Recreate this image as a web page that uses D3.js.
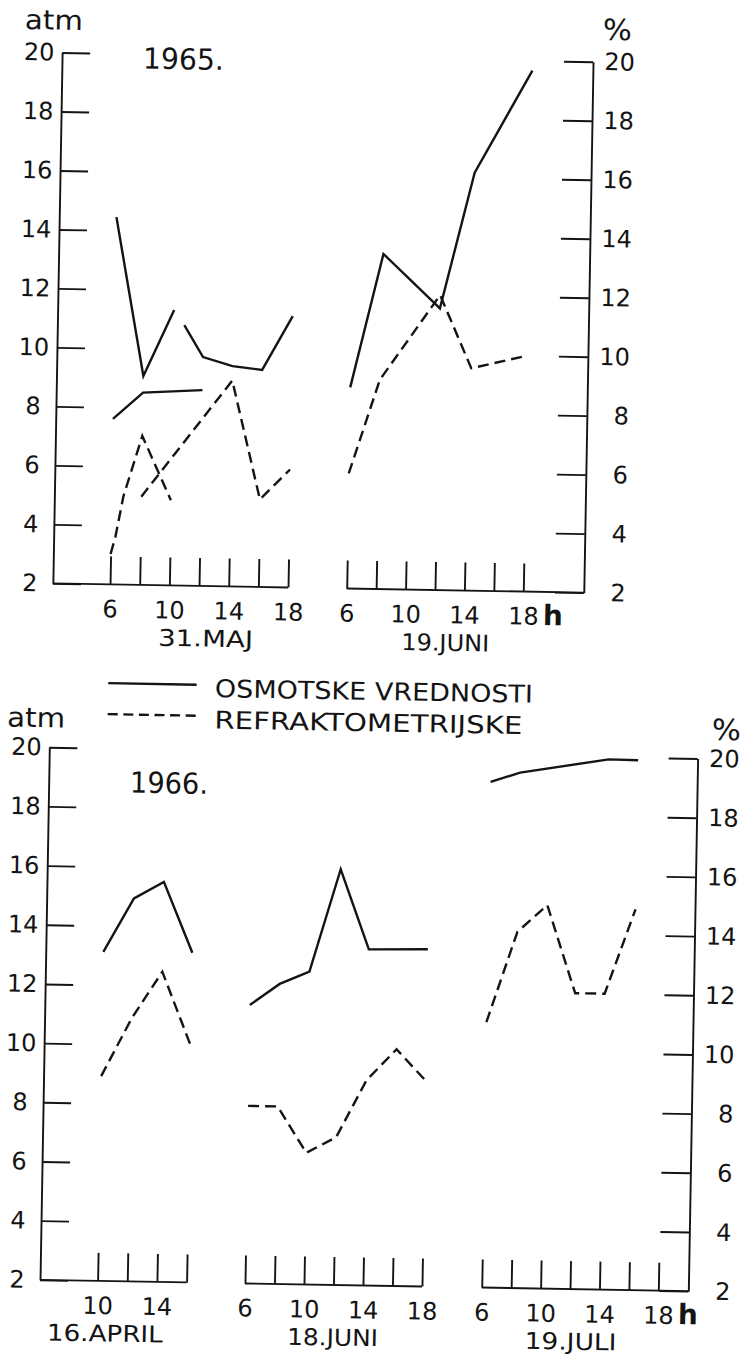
<!DOCTYPE html>
<html>
<head>
<meta charset="utf-8">
<script src="https://cdn.jsdelivr.net/npm/d3@7"></script>
<style>
  html, body { margin: 0; padding: 0; background: #fff; }
  svg { display: block; }
  text { font-family: 'DejaVu Sans', sans-serif; fill: #141414; }
</style>
</head>
<body>
<svg id="chart"></svg>
<script>
const W = 745
const H = 1356

const yTicks = [2, 4, 6, 8, 10, 12, 14, 16, 18, 20]
const dayHours = [6, 8, 10, 12, 14, 16, 18]
const aprilHours = [10, 12, 14, 16]
const hourLabels = [6, 10, 14, 18]
const aprilLabels = [10, 14]

// series are [hour, value]; solid = osmotske (atm), dashed = refraktometrijske (%)
// 1965
const maj31Osm1 = [[6, 14.45], [8, 9.08], [10, 11.34]]
const maj31Osm2 = [[10.7, 10.83], [12, 9.76], [14, 9.47], [16, 9.36], [18, 11.2]]
const maj31Osm3 = [[6, 7.61], [8, 8.52], [12, 8.64]]
const maj31Ref1 = [[6, 3.03], [6.3, 3.6], [6.8, 5.0], [8, 7.05], [10, 4.89]]
const maj31Ref2 = [[8, 4.99], [14, 8.98], [16, 4.97], [18, 6.0]]
const jun19Osm = [[6, 8.82], [8.1, 13.36], [12, 11.55], [14.2, 16.17], [18, 19.66]]
const jun19Ref = [[6, 5.9], [8, 9.09], [12, 12.0], [14.2, 9.54], [18, 10.0]]

// 1966
const apr16Osm = [[10, 13.12], [12, 14.94], [14, 15.52], [16, 13.14]]
const apr16Ref = [[10, 8.92], [12, 10.9], [14, 12.48], [16, 10.0]]
const jun18Osm = [[6, 11.41], [8, 12.14], [10, 12.57], [12, 16.05], [14, 13.36], [18, 13.4]]
const jun18Ref = [[6, 8.0], [8, 8.0], [10, 6.45], [12, 6.99], [14, 8.94], [16, 10.0], [18, 8.96]]
const jul19Osm = [[6, 19.09], [8, 19.42], [14, 19.92], [16, 19.91]]
const jul19Ref = [[6, 10.97], [8, 14.04], [10, 14.96], [12, 12.0], [14, 12.0], [16, 14.87]]

const legendLabels = ['OSMOTSKE VREDNOSTI', 'REFRAKTOMETRIJSKE']

const panels = [
  {
    year: '1965.', cx: 320, cy: 320, top: 57, bottom: 588, left: 57.5, right: 588.5,
    yearPos: [138.4, 71.7, 81], atmPos: [19.7, 34.1], pctPos: [597.8, 34.8],
    sections: [
      { dom: [6, 18], rng: [114.7, 292.7], from: 57.5, to: 292.7, ticks: dayHours, labels: hourLabels,
        name: '31.MAJ', nameAt: 12.5, nameW: 95, h: false,
        lines: [[maj31Osm1, false], [maj31Osm2, false], [maj31Osm3, false], [maj31Ref1, true], [maj31Ref2, true]] },
      { dom: [6, 18], rng: [351.4, 528], from: 351.4, to: 588.5, ticks: dayHours, labels: hourLabels,
        name: '19.JUNI', nameAt: 12.76, nameW: 88, h: true,
        lines: [[jun19Osm, false], [jun19Ref, true]] }
    ]
  },
  {
    year: '1966.', cx: 360, cy: 1020, top: 752.7, bottom: 1285.4, left: 44.6, right: 693,
    yearPos: [125.9, 796.6, 78], atmPos: [1.9, 732.6], pctPos: [706.8, 733.6],
    legend: true,
    sections: [
      { dom: [10, 16], rng: [102.2, 191.2], from: 44.6, to: 191.2, ticks: aprilHours, labels: aprilLabels,
        name: '16.APRIL', nameAt: 10.55, nameW: 116, h: false,
        lines: [[apr16Osm, false], [apr16Ref, true]] },
      { dom: [6, 18], rng: [249.6, 426.6], from: 249.6, to: 426.6, ticks: dayHours, labels: hourLabels,
        name: '18.JUNI', nameAt: 12, nameW: 91, h: false,
        lines: [[jun18Osm, false], [jun18Ref, true]] },
      { dom: [6, 18], rng: [486.4, 663], from: 486.4, to: 693, ticks: dayHours, labels: hourLabels,
        name: '19.JULI', nameAt: 12.1, nameW: 92, h: true,
        lines: [[jul19Osm, false], [jul19Ref, true]] }
    ]
  }
]

const ink = '#141414'
const svg = d3.select('#chart').attr('width', W).attr('height', H)
svg.append('rect').attr('width', W).attr('height', H).attr('fill', '#fff')

panels.forEach((p) => drawPanel(p))

function styleAxis(ax) {
  ax.attr('font-size', 24).attr('font-family', null).attr('color', ink)
  ax.selectAll('line, path').attr('stroke-width', 1.9)
}

function drawPanel(p) {
  // the scanned figure is tilted about one degree clockwise
  const g = svg.append('g').attr('transform', `rotate(1, ${p.cx}, ${p.cy})`)
  const y = d3.scaleLinear().domain([2, 20]).range([p.bottom, p.top])

  g.append('g')
    .attr('transform', `translate(${p.left},0)`)
    .call(d3.axisLeft(y).tickValues(yTicks).tickSizeInner(-28).tickSizeOuter(0).tickPadding(0))
    .call(styleAxis)
    .call((ax) => ax.selectAll('text').attr('x', -23).attr('text-anchor', 'middle'))

  g.append('g')
    .attr('transform', `translate(${p.right},0)`)
    .call(d3.axisRight(y).tickValues(yTicks).tickSizeInner(-29).tickSizeOuter(0).tickPadding(0))
    .call(styleAxis)
    .call((ax) => ax.selectAll('text').attr('x', 42).attr('text-anchor', 'end'))

  const base = y(2)

  p.sections.forEach((s) => {
    const x = d3.scaleLinear().domain(s.dom).range(s.rng)

    const ax = g.append('g')
      .attr('transform', `translate(0,${base})`)
      .call(d3.axisBottom(x).tickValues(s.ticks).tickSizeInner(-28).tickSizeOuter(0).tickPadding(16)
        .tickFormat((d) => (s.labels.includes(d) ? d : '')))
      .call(styleAxis)
    ax.select('.domain').remove()

    g.append('line')
      .attr('x1', s.from).attr('x2', s.to)
      .attr('y1', base).attr('y2', base)
      .attr('stroke', ink).attr('stroke-width', 1.9)

    g.append('text')
      .attr('x', x(s.nameAt)).attr('y', base + 60.5)
      .attr('text-anchor', 'middle')
      .attr('font-size', 23)
      .attr('textLength', s.nameW).attr('lengthAdjust', 'spacingAndGlyphs')
      .text(s.name)

    if (s.h) {
      g.append('text')
        .attr('x', x(18) + 30).attr('y', base + 33)
        .attr('text-anchor', 'middle')
        .attr('font-size', 28).attr('font-weight', 'bold')
        .text('h')
    }

    const line = d3.line().x((d) => x(d[0])).y((d) => y(d[1]))
    s.lines.forEach(([data, dashed]) => {
      g.append('path')
        .datum(data)
        .attr('d', line)
        .attr('fill', 'none')
        .attr('stroke', ink)
        .attr('stroke-width', 2.4)
        .attr('stroke-linejoin', 'miter')
        .attr('stroke-dasharray', dashed ? '11,6' : null)
    })
  })

  g.append('text')
    .attr('x', p.yearPos[0]).attr('y', p.yearPos[1])
    .attr('font-size', 29)
    .attr('textLength', p.yearPos[2]).attr('lengthAdjust', 'spacingAndGlyphs')
    .text(p.year)

  g.append('text')
    .attr('x', p.atmPos[0]).attr('y', p.atmPos[1])
    .attr('font-size', 27)
    .attr('textLength', 58).attr('lengthAdjust', 'spacingAndGlyphs')
    .text('atm')

  g.append('text')
    .attr('x', p.pctPos[0]).attr('y', p.pctPos[1])
    .attr('font-size', 29)
    .attr('textLength', 29).attr('lengthAdjust', 'spacingAndGlyphs')
    .text('%')

  if (p.legend) drawLegend(g)
}

function drawLegend(g) {
  const rows = [
    { y: 687.6, ty: 699.7, w: 318, dashed: false },
    { y: 718.6, ty: 731.2, w: 308, dashed: true }
  ]
  rows.forEach((r, i) => {
    g.append('line')
      .attr('x1', 102.4).attr('x2', 190.8)
      .attr('y1', r.y).attr('y2', r.y)
      .attr('stroke', ink).attr('stroke-width', 2.4)
      .attr('stroke-dasharray', r.dashed ? '10,5.6' : null)
    g.append('text')
      .attr('x', 209.2).attr('y', r.ty)
      .attr('font-size', 24.5)
      .attr('textLength', r.w).attr('lengthAdjust', 'spacingAndGlyphs')
      .text(legendLabels[i])
  })
}
</script>
</body>
</html>
